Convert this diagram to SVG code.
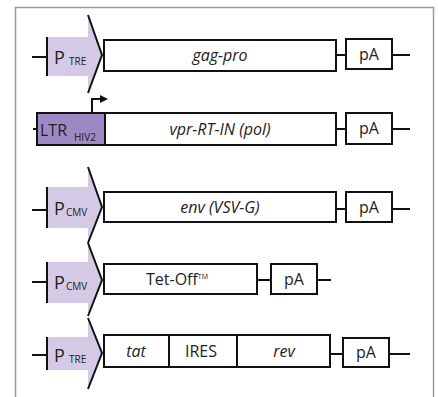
<svg xmlns="http://www.w3.org/2000/svg" width="438" height="397" viewBox="0 0 438 397">
<style>
.frame{fill:#fff;stroke:#9a9a9a;stroke-width:1.5}
.box{fill:#fff;stroke:#111;stroke-width:2}
.ln{stroke:#111;stroke-width:2;fill:none}
.pfill{fill:#d4cae6}
.ltr{fill:#9f89c4;stroke:#111;stroke-width:2}
.t{font-family:"Open Sans","Noto Sans",sans-serif;fill:#222}
.big{font-size:18px}
.sub{font-size:10px}
.lab{font-size:16px}
.it{font-style:italic}
</style>
<defs>
<marker id="ah" markerWidth="8" markerHeight="8" refX="1" refY="4" orient="auto" markerUnits="userSpaceOnUse">
<path d="M0,0 L8,4 L0,8 Z" fill="#111"/>
</marker>
</defs>
<rect class="frame" x="15.5" y="7.5" width="418" height="400"/>

<g id="connectors">
<line class="ln" x1="32" y1="57" x2="47" y2="57"/>
<line class="ln" x1="336" y1="55" x2="346" y2="55"/>
<line class="ln" x1="392" y1="55" x2="410" y2="55"/>
<line class="ln" x1="33" y1="129" x2="37" y2="129"/>
<line class="ln" x1="336" y1="129" x2="346" y2="129"/>
<line class="ln" x1="392" y1="129" x2="410" y2="129"/>
<path class="ln" d="M92,113 V99 H101" marker-end="url(#ah)"/>
<line class="ln" x1="32" y1="210" x2="47" y2="210"/>
<line class="ln" x1="336" y1="209" x2="346" y2="209"/>
<line class="ln" x1="392" y1="209" x2="410" y2="209"/>
<line class="ln" x1="32" y1="282" x2="47" y2="282"/>
<line class="ln" x1="257" y1="280" x2="271" y2="280"/>
<line class="ln" x1="317" y1="280" x2="331" y2="280"/>
<line class="ln" x1="32" y1="355" x2="47" y2="355"/>
<line class="ln" x1="330" y1="354" x2="343" y2="354"/>
<line class="ln" x1="389" y1="354" x2="410" y2="354"/>
</g>

<g id="ptre1">
<path class="pfill" d="M47,37 H88 V15 L102,55 L88,93 V76 H47 Z"/>
<path class="ln" d="M47,37 V76 M88,15 L102,55 L88,93"/>
<text class="t big" x="54" y="64">P</text><text class="t sub" x="69" y="65">TRE</text>
</g>
<g id="gagpro"><rect class="box" x="104" y="40" width="232" height="31"/><text class="t lab it" x="220" y="61" text-anchor="middle">gag-pro</text></g>
<g id="pa1"><rect class="box" x="346" y="39" width="46" height="30"/><text class="t lab" x="369" y="60" text-anchor="middle">pA</text></g>

<g id="ltr"><rect class="ltr" x="37" y="113" width="68" height="32"/><text class="t" font-size="16" x="40" y="136">LTR</text><text class="t sub" x="74" y="141">HIV2</text></g>
<g id="vpr"><rect class="box" x="105" y="113" width="231" height="32"/><text class="t lab it" x="220" y="135" text-anchor="middle">vpr-RT-IN (pol)</text></g>
<g id="pa2"><rect class="box" x="346" y="113" width="46" height="31"/><text class="t lab" x="369" y="134" text-anchor="middle">pA</text></g>

<g id="pcmv1">
<path class="pfill" d="M47,187 H88 V167 L102,207 L88,243 V228 H47 Z"/>
<path class="ln" d="M47,187 V228 M88,167 L102,207 L88,243"/>
<text class="t big" x="54" y="215">P</text><text class="t sub" x="66" y="216">CMV</text>
</g>
<g id="env"><rect class="box" x="104" y="192" width="232" height="30"/><text class="t lab it" x="220" y="213" text-anchor="middle">env (VSV-G)</text></g>
<g id="pa3"><rect class="box" x="346" y="192" width="46" height="30"/><text class="t lab" x="369" y="213" text-anchor="middle">pA</text></g>

<g id="pcmv2">
<path class="pfill" d="M47,262 H88 V243 L102,280 L88,316 V303 H47 Z"/>
<path class="ln" d="M47,262 V303 M88,243 L102,280 L88,316"/>
<text class="t big" x="54" y="289">P</text><text class="t sub" x="66" y="290">CMV</text>
</g>
<g id="tetoff"><rect class="box" x="104" y="264" width="153" height="30"/><text class="t lab" x="177" y="285" text-anchor="middle">Tet-Off<tspan font-size="7" dy="-6">TM</tspan></text></g>
<g id="pa4"><rect class="box" x="271" y="264" width="46" height="30"/><text class="t lab" x="294" y="285" text-anchor="middle">pA</text></g>

<g id="ptre2">
<path class="pfill" d="M47,337 H88 V318 L102,353 L88,389 V370 H47 Z"/>
<path class="ln" d="M47,337 V370 M88,318 L102,353 L88,389"/>
<text class="t big" x="54" y="362">P</text><text class="t sub" x="69" y="363">TRE</text>
</g>
<g id="tat"><rect class="box" x="104" y="335" width="65" height="32"/><text class="t lab it" x="136" y="357" text-anchor="middle">tat</text></g>
<g id="ires"><rect class="box" x="169" y="335" width="68" height="32"/><text class="t lab" x="201" y="357" text-anchor="middle">IRES</text></g>
<g id="rev"><rect class="box" x="237" y="335" width="93" height="32"/><line class="ln" x1="237" y1="335" x2="237" y2="367" stroke-width="3"/><text class="t lab it" x="284" y="357" text-anchor="middle">rev</text></g>
<g id="pa5"><rect class="box" x="343" y="338" width="46" height="29"/><text class="t lab" x="366" y="358" text-anchor="middle">pA</text></g>
</svg>
